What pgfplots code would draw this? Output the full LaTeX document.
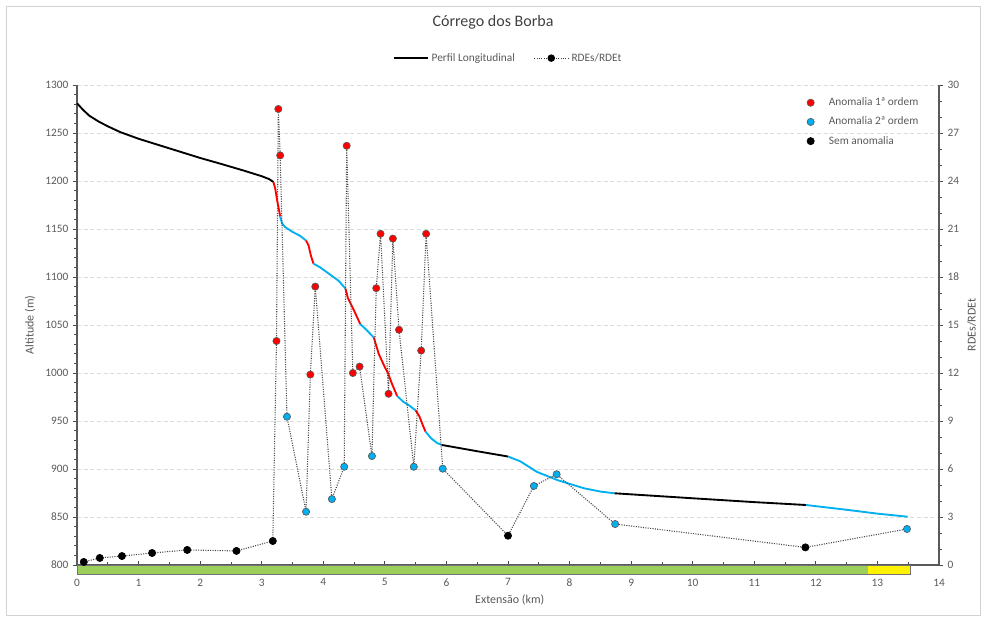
\documentclass[border=0pt]{standalone}
\usepackage{pgfplots}
\pgfplotsset{compat=1.18}
\usepackage{fontspec}
\setmainfont{Carlito}
\definecolor{cRed}{RGB}{255,0,0}
\definecolor{cBlue}{RGB}{0,176,240}
\definecolor{barGreen}{RGB}{156,206,92}
\definecolor{txt}{RGB}{89,89,89}
\pgfplotsset{
  common/.style={
    at={(0pt,0pt)}, anchor=south west,
    scale only axis, width=646.5pt, height=360pt,
    xmin=0, xmax=14,
    axis line style={black!65, line width=0.8pt},
    major tick length=3pt, minor tick length=2pt,
    tick style={black!70, line width=0.6pt},
    ticklabel style={font=\fontsize{8.5}{10}\selectfont, text=txt},
    /pgf/number format/assume math mode=true,
    /pgf/number format/set thousands separator={},
    label style={font=\fontsize{9}{11}\selectfont, text=txt},
  },
  legend image code/.code={\draw[mark repeat=2,mark phase=2,#1] plot coordinates {(0cm,0cm) (0.45cm,0cm) (0.9cm,0cm)};},
}
\begin{document}
\begin{tikzpicture}
\path[use as bounding box] (-57.75pt,-42pt) rectangle (681.75pt,423.75pt);
\draw[gray!35, line width=0.6pt] (-53.25pt,-37.5pt) rectangle (677.25pt,419.25pt);
\begin{axis}[
  common,
  ymin=800, ymax=1300,
  clip=false,
  axis x line*=bottom, axis y line*=left,
  xtick={0,...,14}, minor x tick num=1,
  ytick={800,850,...,1300}, minor y tick num=4,
  xtick align=inside, ytick align=outside,
  ymajorgrids, major grid style={gray!28, densely dashed, line width=0.5pt},
  x tick label style={yshift=-6.75pt},
  xlabel={Extensão (km)}, ylabel={Altitude (m)},
  xlabel style={at={(axis description cs:0.502,-0.073)}, anchor=center},
  ylabel style={at={(axis description cs:-0.0545,0.5)}, anchor=center},
  title={Córrego dos Borba},
  title style={at={(axis description cs:0.4826,1.1146)}, anchor=center, font=\fontsize{12}{14}\selectfont, text=black!75},
  legend style={at={(axis description cs:0.5006,1.056)}, anchor=center, draw=none, fill=none,
    font=\fontsize{8.5}{10}\selectfont, text=txt, legend columns=2,
    /tikz/every even column/.append style={column sep=12pt}},
  legend cell align=left,
]
\addplot[black, line width=1.4pt] coordinates {(0,1281) (0.1,1274) (0.2,1268) (0.35,1262) (0.5,1257) (0.7,1251) (1.0,1244) (1.5,1234) (2.0,1224) (2.33,1218) (2.7,1211) (3.0,1205) (3.12,1202) (3.19,1199)};
\addlegendentry{Perfil Longitudinal}
\addplot[forget plot, cRed, line width=1.4pt] coordinates {(3.19,1199) (3.22,1192) (3.25,1180) (3.28,1170) (3.30,1163)};
\addplot[forget plot, cBlue, line width=1.4pt] coordinates {(3.30,1163) (3.33,1156) (3.38,1152) (3.5,1147) (3.62,1143) (3.72,1138)};
\addplot[forget plot, cRed, line width=1.4pt] coordinates {(3.72,1138) (3.76,1133) (3.80,1122) (3.84,1114)};
\addplot[forget plot, cBlue, line width=1.4pt] coordinates {(3.84,1114) (3.95,1110) (4.10,1103) (4.25,1096) (4.36,1088)};
\addplot[forget plot, cRed, line width=1.4pt] coordinates {(4.36,1088) (4.40,1078) (4.50,1065) (4.60,1051)};
\addplot[forget plot, cBlue, line width=1.4pt] coordinates {(4.60,1051) (4.70,1045) (4.82,1037)};
\addplot[forget plot, cRed, line width=1.4pt] coordinates {(4.82,1037) (4.90,1020) (5.00,1006) (5.05,1000) (5.12,988) (5.20,976)};
\addplot[forget plot, cBlue, line width=1.4pt] coordinates {(5.20,976) (5.30,970) (5.40,966) (5.50,961)};
\addplot[forget plot, cRed, line width=1.4pt] coordinates {(5.50,961) (5.56,955) (5.62,945) (5.66,939)};
\addplot[forget plot, cBlue, line width=1.4pt] coordinates {(5.66,939) (5.75,932) (5.85,927) (5.93,925)};
\addplot[forget plot, black, line width=1.4pt] coordinates {(5.93,925) (6.5,918.5) (7.0,913)};
\addplot[forget plot, cBlue, line width=1.4pt] coordinates {(7.0,913) (7.2,908) (7.47,897) (7.8,888.5) (8.23,880) (8.5,876.5) (8.73,874.7)};
\addplot[forget plot, black, line width=1.4pt] coordinates {(8.73,874.7) (10,869.5) (11,865.5) (11.84,862.5)};
\addplot[forget plot, cBlue, line width=1.4pt] coordinates {(11.84,862.5) (12.5,857.5) (13,853.5) (13.49,850.3)};
\addlegendimage{black!75, densely dotted, line width=0.8pt, mark=*, mark size=2.4pt, mark options={solid, fill=black, draw=black}}
\addlegendentry{RDEs/RDEt}
\fill[barGreen] (axis cs:0,800) rectangle (axis cs:12.84,790.6);
\fill[yellow] (axis cs:12.84,800) rectangle (axis cs:13.54,790.6);
\draw[black!55, line width=0.5pt] (axis cs:0,800) rectangle (axis cs:13.54,790.6);
\end{axis}
\begin{axis}[
  common,
  ymin=0, ymax=30,
  axis x line=none, axis y line*=right,
  ytick={0,3,...,30}, minor y tick num=2,
  ytick align=outside,
  ylabel={RDEs/RDEt},
  ylabel style={at={(axis description cs:1.038,0.5)}, anchor=center},
  legend style={at={(axis description cs:0.842,0.985)}, anchor=north west, draw=none, fill=none,
    font=\fontsize{8.5}{10}\selectfont, text=txt, row sep=3pt,
    /tikz/every odd column/.append style={column sep=9pt}},
  legend cell align=left,
]
\addplot[forget plot, black!72, densely dotted, line width=0.8pt] coordinates {
(0.11,0.19) (0.37,0.44) (0.73,0.56) (1.22,0.75) (1.79,0.94) (2.59,0.88) (3.18,1.5)
(3.24,14.0) (3.27,28.5) (3.30,25.6) (3.41,9.27) (3.72,3.33) (3.79,11.9) (3.87,17.4)
(4.14,4.12) (4.34,6.14) (4.38,26.2) (4.48,12.0) (4.59,12.4) (4.79,6.81) (4.86,17.3)
(4.93,20.7) (5.06,10.7) (5.13,20.4) (5.23,14.7) (5.47,6.14) (5.59,13.4) (5.67,20.7)
(5.94,6.02) (7.00,1.83) (7.42,4.94) (7.79,5.67) (8.74,2.56) (11.83,1.10) (13.48,2.25)};
\addplot[only marks, mark=*, mark size=2.7pt, mark options={fill=cRed, draw=black!65, line width=0.5pt}] coordinates {
(3.24,14.0) (3.27,28.5) (3.30,25.6) (3.79,11.9) (3.87,17.4) (4.38,26.2) (4.48,12.0) (4.59,12.4)
(4.86,17.3) (4.93,20.7) (5.06,10.7) (5.13,20.4) (5.23,14.7) (5.59,13.4) (5.67,20.7)};
\addlegendentry{Anomalia 1ª ordem}
\addplot[only marks, mark=*, mark size=2.7pt, mark options={fill=cBlue, draw=black!65, line width=0.5pt}] coordinates {
(3.41,9.27) (3.72,3.33) (4.14,4.12) (4.34,6.14) (4.79,6.81) (5.47,6.14) (5.94,6.02)
(7.42,4.94) (7.79,5.67) (8.74,2.56) (13.48,2.25)};
\addlegendentry{Anomalia 2ª ordem}
\addplot[only marks, mark=*, mark size=2.7pt, mark options={fill=black, draw=black, line width=0.5pt}] coordinates {
(0.11,0.19) (0.37,0.44) (0.73,0.56) (1.22,0.75) (1.79,0.94) (2.59,0.88) (3.18,1.5) (7.00,1.83) (11.83,1.10)};
\addlegendentry{Sem anomalia}
\end{axis}
\end{tikzpicture}
\end{document}
